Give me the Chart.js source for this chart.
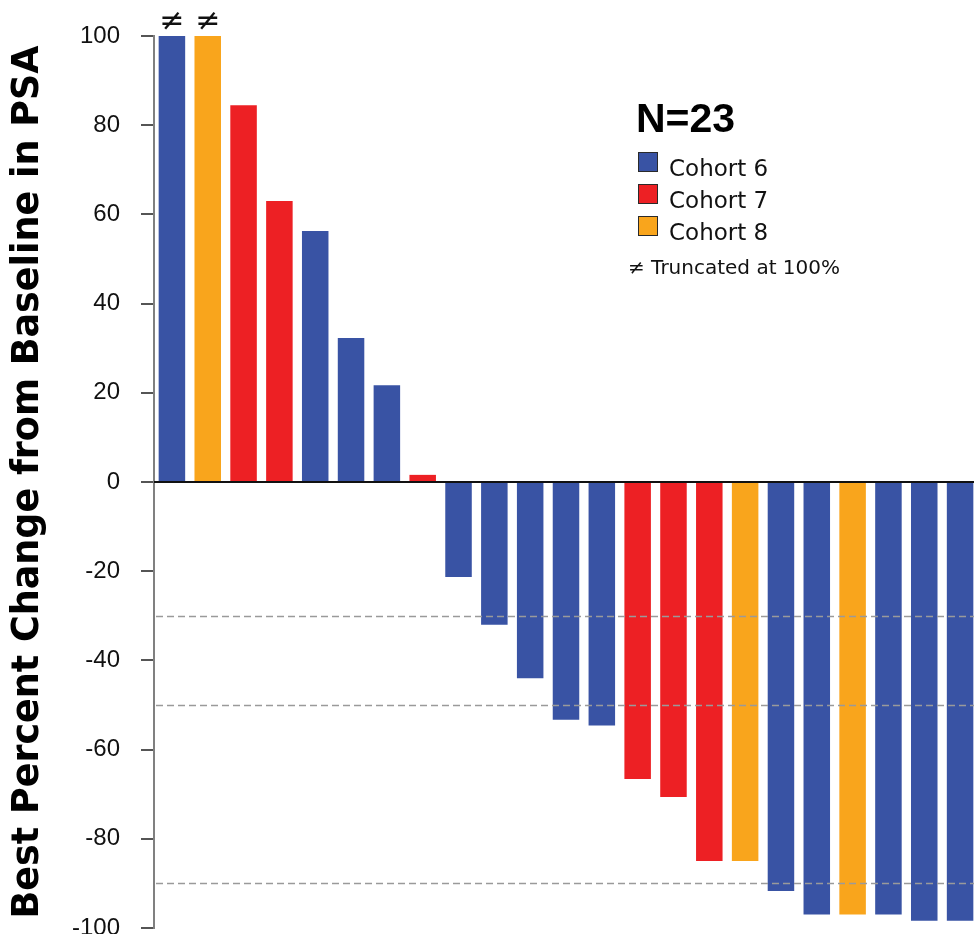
<!DOCTYPE html>
<html>
<head>
<meta charset="utf-8">
<title>Best Percent Change from Baseline in PSA</title>
<script src="https://cdn.jsdelivr.net/npm/chart.js@4.4.1/dist/chart.umd.min.js"></script>
<style>
    html, body { margin: 0; padding: 0; background: #fff; overflow: hidden; }
    #wrap { position: relative; width: 978px; height: 934px; }
    .n-label {
        position: absolute; left: 636px; top: 98px;
        font: bold 41px/41px 'Liberation Sans', Arial, sans-serif; color: #000;
    }
    .legend-row {
        position: absolute; left: 638px; height: 20px;
        font: 23px/23px 'DejaVu Sans', sans-serif; color: #111;
    }
    .legend-row .swatch {
        position: absolute; left: 0; top: 0; width: 18px; height: 18px;
        border: 1px solid #2a2a2a;
    }
    .legend-row .txt { position: absolute; left: 31px; top: 5px; white-space: nowrap; }
    .note {
        position: absolute; left: 628px; top: 257px; white-space: nowrap;
        font: 20px/20px 'DejaVu Sans', sans-serif; color: #111;
    }
</style>
</head>
<body>
<div id="wrap">
    <canvas id="psaChart"></canvas>
    <div class="n-label" id="nLabel"></div>
    <div id="legend"></div>
    <div class="note" id="note"></div>
</div>
<script>
// Waterfall data, one bar per patient
const patients = ['P1','P2','P3','P4','P5','P6','P7','P8','P9','P10','P11','P12',
                  'P13','P14','P15','P16','P17','P18','P19','P20','P21','P22','P23'];
const psaChange = [100, 100, 84.5, 63, 56.3, 32.3, 21.7, 1.6, -21.3, -32, -44, -53.3,
                   -54.6, -66.6, -70.6, -85, -85, -91.7, -97, -97, -97, -98.4, -98.4];
const cohort = [6, 8, 7, 7, 6, 6, 6, 7, 6, 6, 6, 6, 6, 7, 7, 7, 8, 6, 6, 8, 6, 6, 6];
const truncated = [true, true, false, false, false, false, false, false, false, false, false, false,
                   false, false, false, false, false, false, false, false, false, false, false];

const cohorts = [6, 7, 8];
const cohortNames = ['Cohort 6', 'Cohort 7', 'Cohort 8'];
const cohortColors = ['#3953a4', '#ed2024', '#f9a51c'];
const yTicks = [-100, -80, -60, -40, -20, 0, 20, 40, 60, 80, 100];
const thresholds = [-30, -50, -90];

document.addEventListener('DOMContentLoaded', function() {

    // HTML legend
    document.getElementById('nLabel').textContent = 'N=' + patients.length;
    const legendEl = document.getElementById('legend');
    cohortNames.forEach((name, i) => {
        const row = document.createElement('div');
        row.className = 'legend-row';
        row.style.top = (152 + i * 32) + 'px';
        row.innerHTML = '<div class="swatch" style="background:' + cohortColors[i] + '"></div>' +
                        '<span class="txt">' + name + '</span>';
        legendEl.appendChild(row);
    });
    document.getElementById('note').textContent = '\u2260 Truncated at 100%';

    // Dashed thresholds, zero line and truncation marks
    const overlay = {
        id: 'overlay',
        afterDatasetsDraw(chart) {
            const { ctx, chartArea, scales: { x, y } } = chart;
            ctx.save();
            ctx.strokeStyle = '#9a9a9a';
            ctx.lineWidth = 1.3;
            ctx.setLineDash([7, 4]);
            thresholds.forEach(v => {
                const py = Math.round(y.getPixelForValue(v)) + 0.5;
                ctx.beginPath();
                ctx.moveTo(chartArea.left + 2, py);
                ctx.lineTo(chartArea.right, py);
                ctx.stroke();
            });
            ctx.setLineDash([]);
            ctx.strokeStyle = '#111';
            ctx.lineWidth = 2;
            const y0 = Math.round(y.getPixelForValue(0));
            ctx.beginPath();
            ctx.moveTo(chartArea.left, y0);
            ctx.lineTo(chartArea.right, y0);
            ctx.stroke();

            ctx.fillStyle = '#111';
            ctx.font = '30px "DejaVu Sans", sans-serif';
            ctx.textAlign = 'center';
            ctx.textBaseline = 'middle';
            truncated.forEach((t, i) => {
                if (t) ctx.fillText('\u2260', x.getPixelForValue(i), y.getPixelForValue(psaChange[i]) - 14);
            });
            ctx.restore();
        }
    };

    const ctx = document.getElementById('psaChart').getContext('2d');
    new Chart(ctx, {
        type: 'bar',
        data: {
            labels: patients,
            datasets: [{
                label: 'Best % change in PSA',
                data: psaChange,
                backgroundColor: cohort.map(c => cohortColors[cohorts.indexOf(c)]),
                borderWidth: 0,
                barPercentage: 0.74,
                categoryPercentage: 1
            }]
        },
        options: {
            responsive: true,
            maintainAspectRatio: false,
            animation: false,
            events: [],
            layout: { padding: { top: 36, bottom: 6, left: 0, right: 0 } },
            plugins: {
                legend: { display: false },
                tooltip: { enabled: false }
            },
            scales: {
                x: { display: false },
                y: {
                    min: -100,
                    max: 100,
                    afterBuildTicks: scale => { scale.ticks = yTicks.map(v => ({ value: v })); },
                    afterFit: scale => {
                        scale.width = 154;
                        scale.paddingTop = 0;
                        scale.paddingBottom = 0;
                    },
                    border: { display: true, color: '#808080', width: 2 },
                    grid: {
                        drawOnChartArea: false,
                        drawTicks: true,
                        tickLength: 13,
                        color: '#555',
                        lineWidth: 2
                    },
                    ticks: {
                        padding: 21,
                        color: '#111',
                        font: { family: "'Liberation Sans', Arial, sans-serif", size: 24 }
                    },
                    title: {
                        display: true,
                        text: 'Best Percent Change from Baseline in PSA',
                        color: '#000',
                        padding: { top: 7, bottom: 0 },
                        font: { family: "'DejaVu Sans', sans-serif", size: 36.5, weight: 'bold' }
                    }
                }
            }
        },
        plugins: [overlay]
    });
});
</script>
</body>
</html>
